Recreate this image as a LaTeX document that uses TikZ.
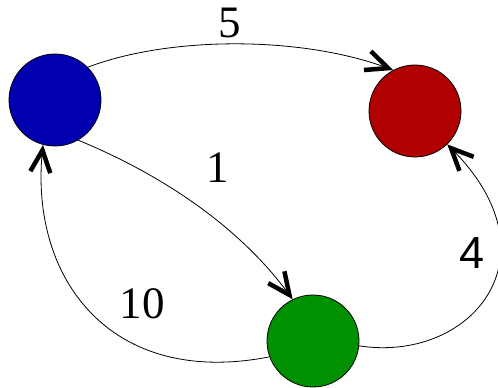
\documentclass[tikz,border=0pt]{standalone}
\usepackage{fontspec}
\setmainfont{Liberation Serif}
\newfontfamily\labelsans{Liberation Sans}
\usepackage{xcolor}
\usetikzlibrary{arrows.meta}
\definecolor{nodeblue}{HTML}{0000B0}
\definecolor{nodered}{HTML}{B00000}
\definecolor{nodegreen}{HTML}{009000}

\begin{document}
\begin{tikzpicture}[x=1pt,y=1pt,
link/.style={-{Straight Barb[length=22pt,width=20pt,line width=4.5pt]},line width=0.8pt},
vertex/.style={circle,draw,line width=0.8pt,minimum size=92pt,inner sep=0pt},
weight/.style={font=\rmfamily\fontsize{45}{50}\selectfont}]
\useasboundingbox(0,0)rectangle(498,388);
\node[vertex,fill=nodeblue](blue)at(55,288){};
\node[vertex,fill=nodered](red)at(415,277){};
\node[vertex,fill=nodegreen](green)at(313,47){};
\draw[link](blue.45)..controls(170,352)and(300,352)..(red.118);
\draw[link](blue.-60)..controls(165,212)and(240,160)..(green.116);
\draw[link](green.200)..controls(110,0)and(30,110)..(blue.255);
\draw[link](green.-6)..controls(470,25)and(560,130)..(red.-46);
\node[weight](w5)at(230,365){5};
\node[weight](w1)at(218,220){1};
\node[weight](w10)at(142,84){10};
\node[weight,font=\labelsans\fontsize{45}{50}\selectfont](w4)at(472,135){4};
\end{tikzpicture}
\end{document}
